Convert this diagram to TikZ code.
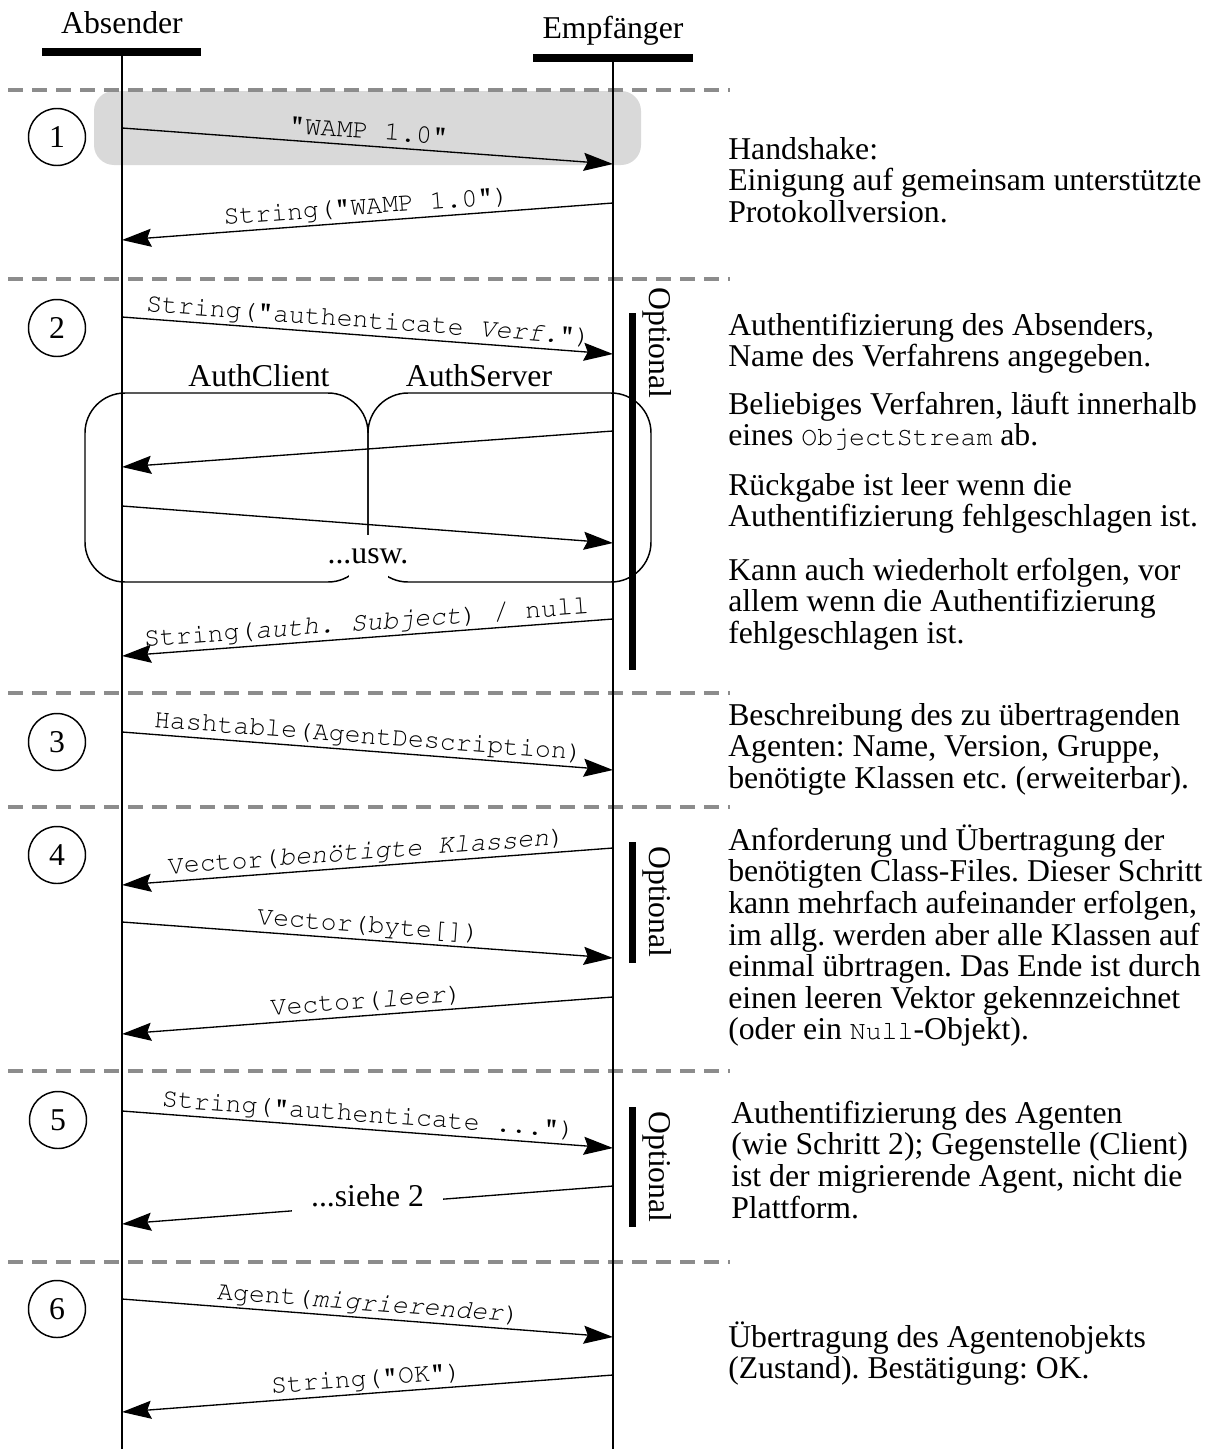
\documentclass[tikz,border=0pt]{standalone}
\usepackage[T1,TU]{fontenc}
\usepackage{fontspec}
\setmainfont{Liberation Serif}
\usetikzlibrary{arrows.meta}
\definecolor{sepgray}{HTML}{8C8C8C}
\definecolor{boxgray}{HTML}{D9D9D9}
\newcommand\myfl{\rule{0pt}{22pt}}
\newcommand\cour{\fontencoding{T1}\fontfamily{pcr}\fontsize{19.9}{23.7}\selectfont}
\begin{document}
\begin{tikzpicture}[x=0.75pt,y=-0.75pt,
  every node/.style={font=\fontsize{23.8}{23.7}\selectfont\frenchspacing},
  msg/.style={line width=1pt,-{Stealth[length=22pt,width=13.5pt,inset=3pt]}},
  lbl/.style={font=\cour\frenchspacing,midway,sloped,above,inner ysep=5pt,inner xsep=0pt,text depth=0pt},
  life/.style={line width=1.5pt},
  sepline/.style={line width=2.5pt,draw=sepgray,dash pattern=on 11.25pt off 6.75pt},
  stepnum/.style={circle,draw,line width=1.1pt,minimum size=42.75pt,inner sep=0pt},
  authbox/.style={draw,line width=1.1pt,rounded corners=30pt},
  optbar/.style={line width=5.25pt},
  optlbl/.style={rotate=-90},
  para/.style={anchor=north west,align=left,inner sep=0pt}
]
\useasboundingbox (0,0) rectangle (1218,1449);

% highlight of step 1
\fill[boxgray,rounded corners=15pt] (94,91) rectangle (641,165);

% separators
\foreach \yy in {90,279,693,807,1071,1262}
  \draw[sepline] (8,\yy) -- (730,\yy);

% participants
\node[anchor=base] (abs) at (122,33) {Absender};
\node[anchor=base] (emp) at (613,38) {Empfänger};
\fill (42,48) rectangle (201,56);
\fill (533,54) rectangle (693,62);
\coordinate (Atop) at (122,56);
\coordinate (Abot) at (122,1449);
\coordinate (Etop) at (613,62);
\coordinate (Ebot) at (613,1449);
\draw[life] (Atop) -- (Abot);
\draw[life] (Etop) -- (Ebot);

% step numbers
\node[stepnum] (s1) at (57,137) {1};
\node[stepnum] (s2) at (57,328) {2};
\node[stepnum] (s3) at (57,742) {3};
\node[stepnum] (s4) at (57,855) {4};
\node[stepnum] (s5) at (58,1120) {5};
\node[stepnum] (s6) at (57,1309) {6};

% AuthClient / AuthServer
\draw[authbox] (85,393) rectangle (368,582);
\draw[authbox] (368,393) rectangle (651,582);
\fill[white] (349,535) rectangle (388,586);
\node[anchor=base] (usw) at (368,563) {...usw.};
\node[anchor=base] (ac) at (259,386) {AuthClient};
\node[anchor=base] (as) at (479,386) {AuthServer};

% optional bars
\draw[optbar] (632.5,313) -- (632.5,670);
\draw[optbar] (632.5,842) -- (632.5,963);
\draw[optbar] (632.5,1107) -- (632.5,1227);
\node[optlbl] (o1) at (657,343) {Optional};
\node[optlbl] (o2) at (657,902) {Optional};
\node[optlbl] (o3) at (657,1167) {Optional};

% messages
\coordinate (m1a) at (122,128);  \coordinate (m1b) at (613,164);
\coordinate (m2a) at (613,203);  \coordinate (m2b) at (122,240);
\coordinate (m3a) at (122,317);  \coordinate (m3b) at (613,354);
\coordinate (m4a) at (613,431);  \coordinate (m4b) at (122,467);
\coordinate (m5a) at (122,506);  \coordinate (m5b) at (613,543);
\coordinate (m6a) at (613,619);  \coordinate (m6b) at (122,656);
\coordinate (m7a) at (122,732);  \coordinate (m7b) at (613,770);
\coordinate (m8a) at (613,848);  \coordinate (m8b) at (122,885);
\coordinate (m9a) at (122,922);  \coordinate (m9b) at (613,958);
\coordinate (m10a) at (613,997); \coordinate (m10b) at (122,1034);
\coordinate (m11a) at (122,1111); \coordinate (m11b) at (613,1148);
\coordinate (m12a) at (613,1186); \coordinate (m12b) at (122,1224);
\coordinate (m13a) at (122,1299); \coordinate (m13b) at (613,1337);
\coordinate (m14a) at (613,1375); \coordinate (m14b) at (122,1412);

\draw[msg] (m1a) -- node[lbl] (l1) {"WAMP 1.0"} (m1b);
\draw[msg] (m2a) -- node[lbl] (l2) {String("WAMP 1.0")} (m2b);
\draw[msg] (m3a) -- node[lbl] (l3) {String("authenticate \textit{Verf.}")} (m3b);
\draw[msg] (m4a) -- (m4b);
\draw[msg] (m5a) -- (m5b);
\draw[msg] (m6a) -- node[lbl] (l6) {String(\textit{auth. Subject}) / null} (m6b);
\draw[msg] (m7a) -- node[lbl] (l7) {Hashtable(AgentDescription)} (m7b);
\draw[msg] (m8a) -- node[lbl] (l8) {Vector(\textit{benötigte Klassen})} (m8b);
\draw[msg] (m9a) -- node[lbl] (l9) {Vector(byte[])} (m9b);
\draw[msg] (m10a) -- node[lbl] (l10) {Vector(\textit{leer})} (m10b);
\draw[msg] (m11a) -- node[lbl] (l11) {String("authenticate ...")} (m11b);
\draw[msg] (m12a) -- node[midway,fill=white,inner xsep=14pt,inner ysep=6pt,yshift=7pt] (l12) {...siehe 2} (m12b);
\draw[msg] (m13a) -- node[lbl] (l13) {Agent(\textit{migrierender})} (m13b);
\draw[msg] (m14a) -- node[lbl] (l14) {String("OK")} (m14b);

% explanations
\node[para] (p1) at (728,129.67) {\myfl Handshake:\\Einigung auf gemeinsam unterstützte\\Protokollversion.};
\node[para] (p2a) at (728,305.67) {\myfl Authentifizierung des Absenders,\\Name des Verfahrens angegeben.};
\node[para] (p2b) at (728,384.67) {\myfl Beliebiges Verfahren, läuft innerhalb\\eines {\cour ObjectStream} ab.};
\node[para] (p2c) at (728,465.67) {\myfl Rückgabe ist leer wenn die\\Authentifizierung fehlgeschlagen ist.};
\node[para] (p2d) at (728,550.67) {\myfl Kann auch wiederholt erfolgen, vor\\allem wenn die Authentifizierung\\fehlgeschlagen ist.};
\node[para] (p3) at (728,695.67) {\myfl Beschreibung des zu übertragenden\\Agenten: Name, Version, Gruppe,\\benötigte Klassen etc. (erweiterbar).};
\node[para] (p4) at (728,820.67) {\myfl Anforderung und Übertragung der\\benötigten Class-Files. Dieser Schritt\\kann mehrfach aufeinander erfolgen,\\im allg. werden aber alle Klassen auf\\einmal übrtragen. Das Ende ist durch\\einen leeren Vektor gekennzeichnet\\(oder ein {\cour Null}-Objekt).};
\node[para] (p5) at (731,1093.67) {\myfl Authentifizierung des Agenten\\(wie Schritt 2); Gegenstelle (Client)\\ist der migrierende Agent, nicht die\\Plattform.};
\node[para] (p6) at (728,1317.67) {\myfl Übertragung des Agentenobjekts\\(Zustand). Bestätigung: OK.};
\end{tikzpicture}
\end{document}
